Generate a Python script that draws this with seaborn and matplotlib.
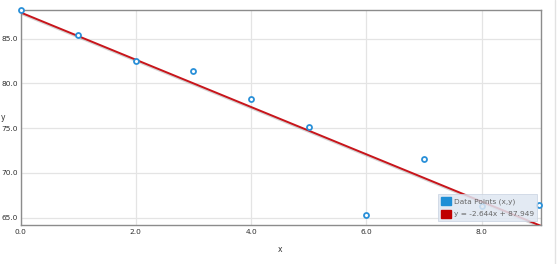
import numpy as np
import pandas as pd
import matplotlib
matplotlib.use("Agg")
import matplotlib.pyplot as plt
import matplotlib.patheffects as pe
from matplotlib.lines import Line2D
from matplotlib.patches import Patch
import seaborn as sns

x_vals = [0, 1, 2, 3, 4, 5, 6, 7, 8, 9]
y_vals = [88.2, 85.45, 82.5, 81.4, 78.25, 75.1, 65.3, 71.6, 66.3, 66.4]
x_ticks = [0, 2, 4, 6, 8]
y_ticks = [65, 70, 75, 80, 85]
points_label = "Data Points (x,y)"
fit_label = "y = -2.644x + 87.949"

df = pd.DataFrame({"x": x_vals, "y": y_vals})

sns.set_theme(style="white")
plt.rcParams["font.family"] = ["DejaVu Sans"]

fig = plt.figure(figsize=(5.6, 2.64), dpi=100)
ax = fig.add_axes([20.5 / 560, 1 - 225 / 264, 520 / 560, (225 - 9.7) / 264])
ax.set_xlim(0, 9.02)
ax.set_ylim(64.18, 88.25)

blue = "#2a90d8"
red = "#c8151b"

sns.regplot(data=df, x="x", y="y", ax=ax, ci=None, truncate=False,
            scatter=False,
            line_kws=dict(color=red, lw=1.4, zorder=3,
                          path_effects=[pe.SimpleLineShadow(offset=(0.6, -1.2), shadow_color="#888888", alpha=0.35),
                                        pe.Normal()]))
sns.scatterplot(data=df, x="x", y="y", ax=ax, marker="o", s=13,
                facecolor="white", edgecolor=blue, linewidth=1.3, zorder=4, clip_on=False)

ax.set_xticks(x_ticks)
ax.set_yticks(y_ticks)
ax.set_xticklabels([f"{v:.1f}" for v in x_ticks])
ax.set_yticklabels([f"{v:.1f}" for v in y_ticks])
ax.tick_params(axis="both", labelsize=5.3, colors="#2e2e2e", length=0, pad=2)
ax.tick_params(axis="x", pad=3)
ax.grid(True, color="#e4e4e4", lw=0.9)
for s in ax.spines.values():
    s.set_color("#8c8c8c")
    s.set_linewidth(1.0)

ax.set_xlabel("x", fontsize=5.5, color="#333333", labelpad=7)
ax.set_ylabel("")
fig.text(0.5 / 560, 1 - 118 / 264, "y", fontsize=5.5, color="#333333", va="center", ha="left")

handles = [Patch(facecolor="#1f8fd6", edgecolor="#1f8fd6"),
           Patch(facecolor="#c00000", edgecolor="#c00000")]
leg = ax.legend(handles, [points_label, fit_label], loc="lower right",
                bbox_to_anchor=(1 - 3.5 / 520, 4 / 215.3), fontsize=5.3,
                frameon=True, fancybox=False, handlelength=1.4, handleheight=1.2,
                handletextpad=0.3, borderpad=0.45, labelspacing=0.7, borderaxespad=0)
leg.get_frame().set_facecolor("#dfe7f2")
leg.get_frame().set_alpha(0.85)
leg.get_frame().set_edgecolor("#c8d2e0")
leg.get_frame().set_linewidth(0.6)
for t in leg.get_texts():
    t.set_color("#666666")

fig.add_artist(Line2D([555 / 560, 555 / 560], [0, 1], color="#e2e2e2", lw=1.0))

fig.savefig("out.png", dpi=100)
